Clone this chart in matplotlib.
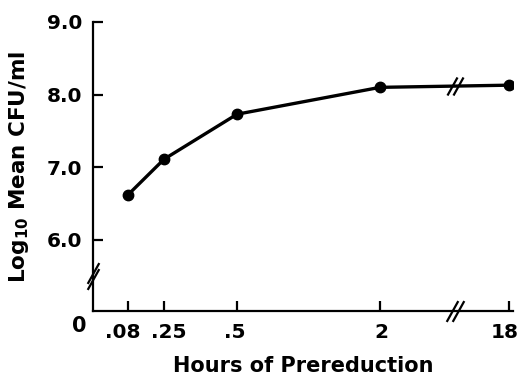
import matplotlib
matplotlib.use('Agg')
import matplotlib.pyplot as plt
import matplotlib.transforms as mtransforms
from matplotlib.path import Path
import numpy as np

plt.rcParams['font.family'] = ['DejaVu Sans']
plt.rcParams['font.weight'] = 'bold'
plt.rcParams['mathtext.fontset'] = 'custom'
plt.rcParams['mathtext.rm'] = 'DejaVu Sans:bold'
plt.rcParams['mathtext.it'] = 'DejaVu Sans:bold'
plt.rcParams['mathtext.bf'] = 'DejaVu Sans:bold'

# data
hours = [0.08, 0.25, 0.5, 2, 18]
log_cfu = [6.62, 7.11, 7.73, 8.10, 8.13]
x_ticks = [0.08, 0.25, 0.5, 2, 18]
x_ticklabels = ['.08', '.25', '.5', '2', '18']
y_ticks = [6.0, 7.0, 8.0, 9.0]
y_ticklabels = ['6.0', '7.0', '8.0', '9.0']

# hand-drawn (broken) hour axis: piecewise mapping hours -> position
h_knots = np.array([0, 0.08, 0.25, 0.5, 2, 18, 19])
p_knots = np.array([0, 35, 71, 144, 287, 416, 420])

def fwd(h):
    return np.interp(h, h_knots, p_knots)

def inv(p):
    return np.interp(p, p_knots, h_knots)

fig = plt.figure(figsize=(5.2, 3.8), dpi=100)
ax = fig.add_axes([93 / 520, 1 - 311 / 380, 420 / 520, 289 / 380])
ax.set_xscale('function', functions=(fwd, inv))

ax.plot(hours, log_cfu, color='black', lw=2.4, marker='o', ms=7.5,
        solid_joinstyle='round', zorder=3)

ax.set_xlim(0, 19)
ax.set_ylim(5.02, 9.0)
ax.set_xticks(x_ticks)
ax.set_xticklabels(x_ticklabels)
ax.set_yticks(y_ticks)
ax.set_yticklabels(y_ticklabels)
ax.minorticks_off()

for s in ['top', 'right']:
    ax.spines[s].set_visible(False)
for s in ['left', 'bottom']:
    ax.spines[s].set_linewidth(1.6)

ax.tick_params(direction='in', length=7, width=1.6, labelsize=14.5)
ax.tick_params(axis='y', pad=8)
ax.tick_params(axis='x', pad=9)

# spread the two crowded labels apart a little, as in the hand lettering
shifts = [-5, 5, -2, 1, -4]
for lab, dx in zip(ax.get_xticklabels(), shifts):
    lab.set_transform(lab.get_transform() +
                      mtransforms.ScaledTranslation(dx / 100, 0, fig.dpi_scale_trans))

ax.set_xlabel('Hours of Prereduction', fontsize=15, fontweight='bold', labelpad=10)
ax.set_ylabel(r'Log$_{10}$ Mean CFU/ml', fontsize=15.5, fontweight='bold', labelpad=11)

ax.annotate('0', xy=(0, 0), xycoords='axes fraction', xytext=(-10, -11),
            textcoords='offset points', ha='center', va='center',
            fontsize=15, fontweight='bold')

# break marks "//"
slash = Path([(-0.5, -0.9), (0.5, 0.9)], [Path.MOVETO, Path.LINETO])

def draw_break(x, y, transform, dx, dy, ms=15):
    for k in (-1, 1):
        tr = mtransforms.offset_copy(transform, fig=fig, x=k * dx, y=k * dy,
                                     units='points')
        ax.plot([x], [y], marker=slash, ms=ms, mew=1.6, color='black',
                transform=tr, clip_on=False, zorder=4)

# y-axis break
draw_break(0, 5.5, ax.get_yaxis_transform(), 0, 2.2)
# x-axis break
hb = inv(362)
draw_break(hb, 0, ax.get_xaxis_transform(), 2.4, 0)
# break on the data line
yb = np.interp(362, fwd(np.array(hours[3:])), log_cfu[3:])
draw_break(hb, yb, ax.transData, 2.4, 0, ms=13)

fig.savefig('out.png', dpi=100)
